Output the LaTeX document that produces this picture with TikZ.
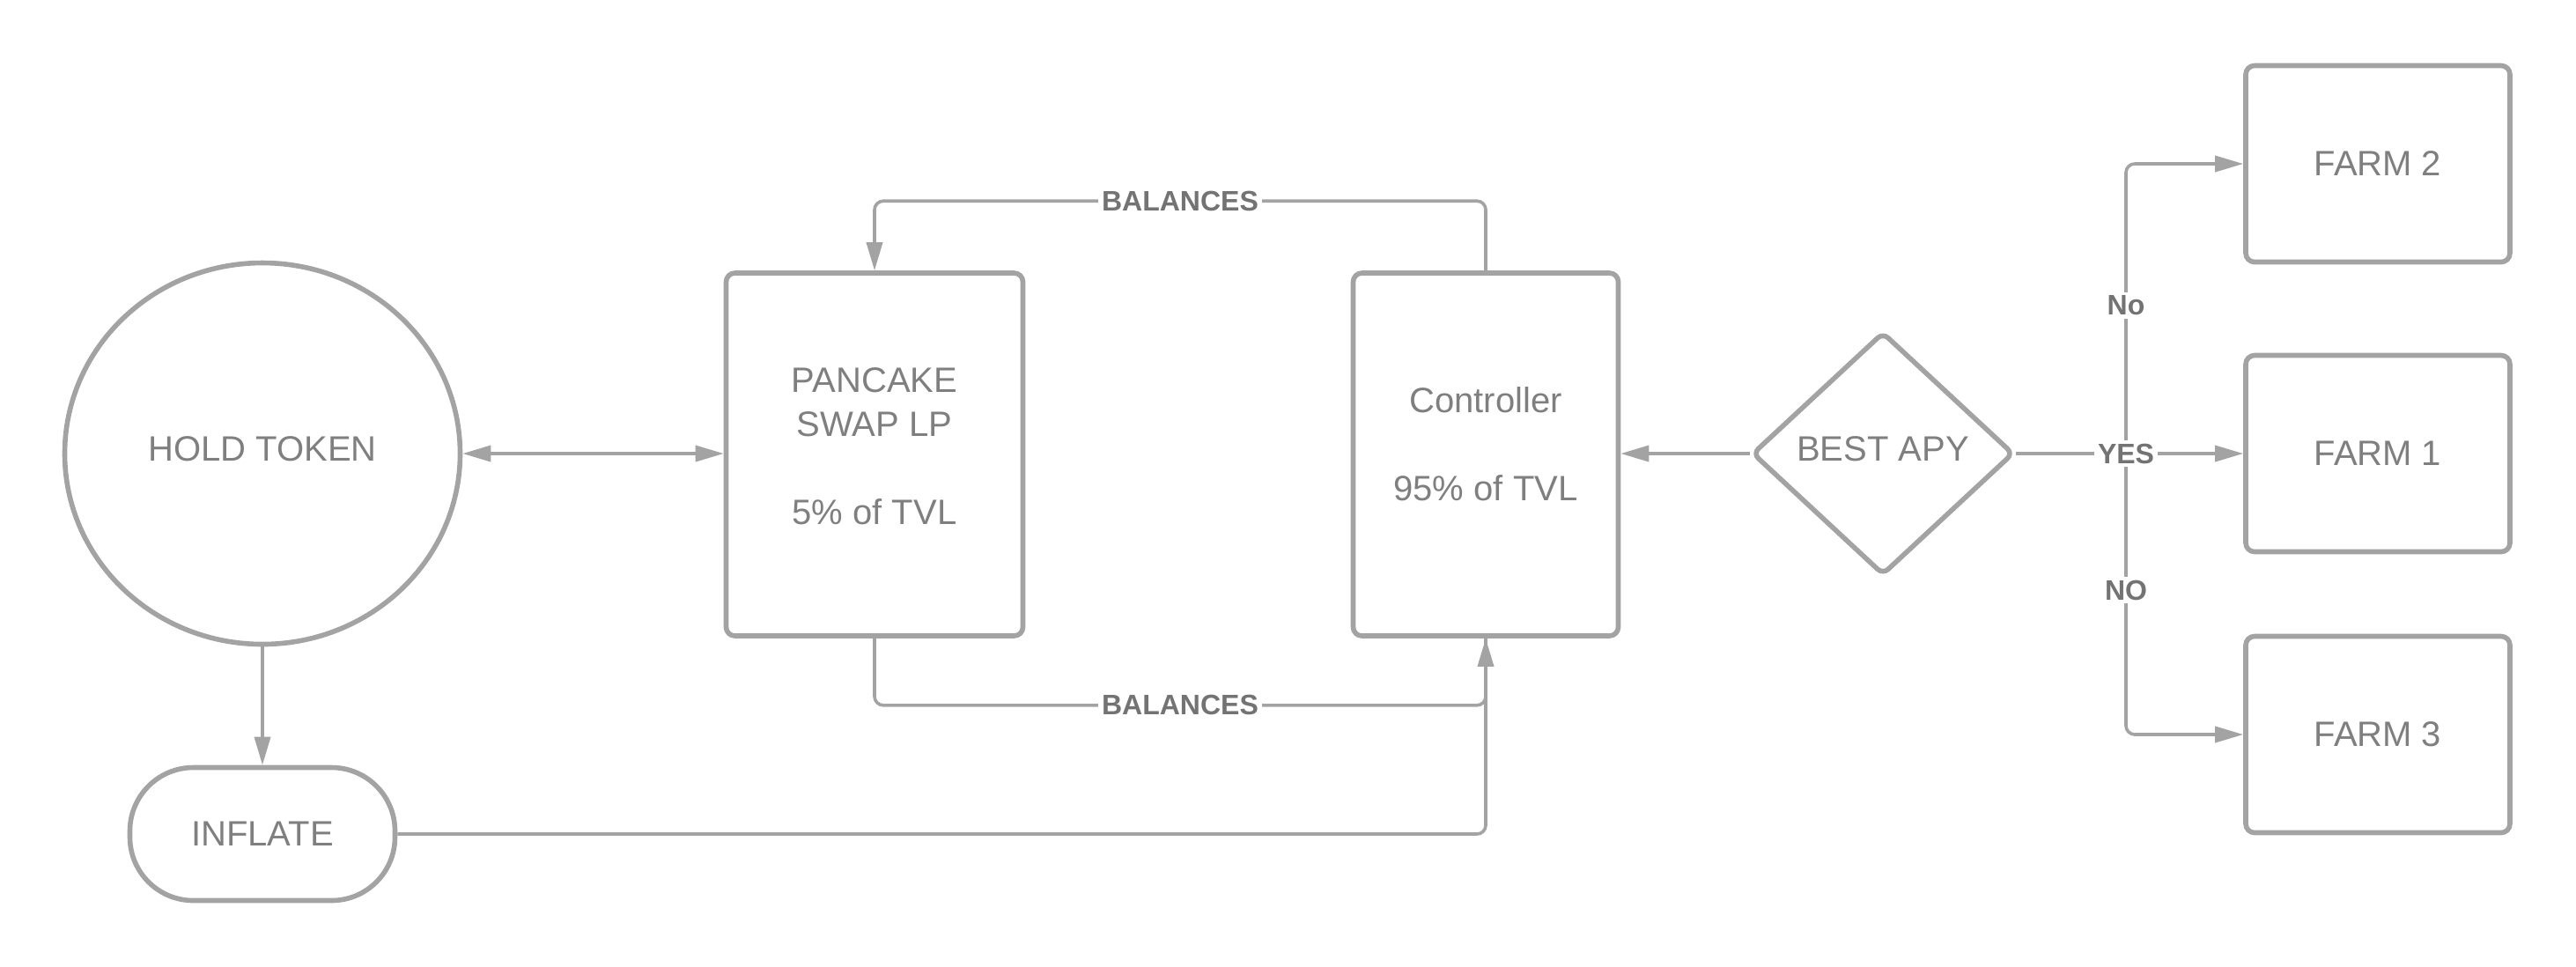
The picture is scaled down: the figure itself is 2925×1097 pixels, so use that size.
\documentclass[tikz,border=0pt]{standalone}
\usepackage{fontspec}
\setmainfont{Liberation Sans}
\usetikzlibrary{shapes.geometric,arrows.meta}
\definecolor{linegray}{HTML}{A3A3A3}
\definecolor{textgray}{HTML}{7F7F7F}
\definecolor{labgray}{HTML}{737373}
\begin{document}
\begin{tikzpicture}[x=0.25pt,y=-0.25pt,
  box/.style={draw=linegray, line width=1.4pt, rounded corners=2.5pt, text=textgray,
    font=\fontsize{10}{12.5}\selectfont, align=center, inner sep=0pt},
  conn/.style={draw=linegray, line width=0.9pt, rounded corners=2.5pt},
  arr/.style={conn, -{Triangle[length=8pt,width=4.5pt]}},
  lab/.style={fill=white, text=labgray, font=\bfseries\fontsize{8}{9.6}\selectfont, inner sep=1pt}]
\useasboundingbox (0,0) rectangle (2925,1097);

\node[box, ellipse, minimum width=112.25pt, minimum height=108.25pt] (hold) at (298,515) {HOLD TOKEN\\[-9.7pt]};
\node[box, rounded corners=18pt, minimum width=75.25pt, minimum height=37.75pt] (inflate) at (298,947) {INFLATE};
\node[box, minimum width=84.25pt, minimum height=103pt] (pancake) at (993,516) {PANCAKE\\SWAP LP\\[12.5pt]5\% of TVL\\[-8pt]};
\node[box, minimum width=75.25pt, minimum height=103pt] (controller) at (1687,516) {Controller\\[12.5pt]95\% of TVL\\[-6.3pt]};
\node[box, diamond, rounded corners=2pt, minimum width=74.25pt, minimum height=69pt] (apy) at (2138,515) {BEST APY\\[-9.7pt]};
\node[box, minimum width=75pt, minimum height=55.75pt] (farm2) at (2700,186) {FARM 2};
\node[box, minimum width=75pt, minimum height=55.75pt] (farm1) at (2700,515) {FARM 1};
\node[box, minimum width=75pt, minimum height=55.75pt] (farm3) at (2700,834) {FARM 3};

\coordinate (j) at (2414,515);

\draw[conn, {Triangle[length=8pt,width=4.5pt]}-{Triangle[length=8pt,width=4.5pt]}] (hold.east) -- (hold.east -| pancake.west);
\draw[arr] (hold.south) -- (inflate.north);
\draw[arr] (inflate.east) -| (controller.south);
\draw[conn] (pancake.south) -- ++(0,76) -| (controller.south)
  node[lab, pos=0.25] {BALANCES};
\draw[arr] (controller.north) -- ++(0,-79) -| (pancake.north)
  node[lab, pos=0.25] {BALANCES};
\draw[arr] (apy.west) -- (apy.west -| controller.east);
\draw[conn] (apy.east) -- (j);
\draw[arr] (j) -- (j -| farm1.west);
\draw[arr] (j) |- (farm2.west);
\draw[arr] (j) |- (farm3.west);
\node[lab] at (2414,347) {No};
\node[lab] at (2414,670) {NO};
\node[lab] at (j) {YES};
\end{tikzpicture}
\end{document}
